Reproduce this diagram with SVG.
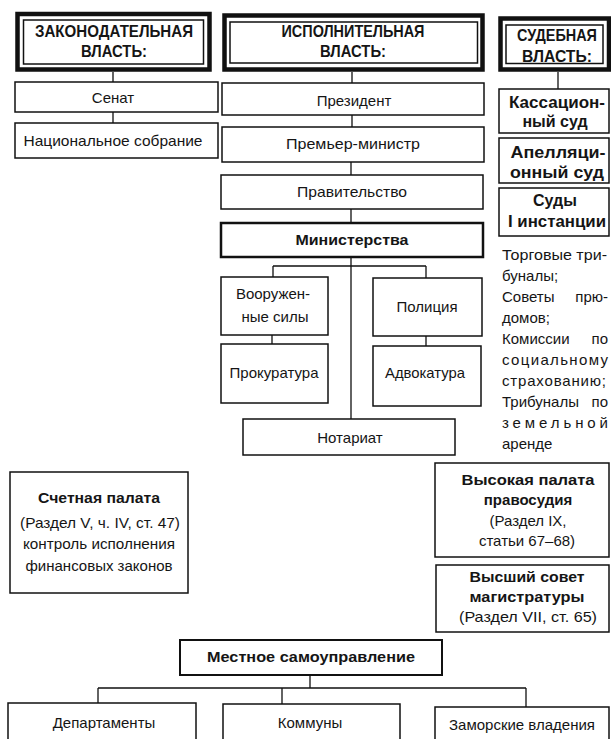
<svg xmlns="http://www.w3.org/2000/svg" width="611" height="739" viewBox="0 0 611 739">
<style>
.bg{fill:#fff}
.box{fill:#fff;stroke:#111;stroke-width:1.5}
.thick{fill:#fff;stroke:#111;stroke-width:2.5}
.hout{fill:#fff;stroke:#111;stroke-width:4.5}
.hin{fill:none;stroke:#111;stroke-width:1.5}
.t{font-family:"Liberation Sans",Arial,sans-serif;font-size:15px;fill:#151515;text-anchor:middle}
.l{text-anchor:start}
.e{text-anchor:end}
.b{font-weight:bold}
.h{font-weight:bold;font-size:16px}
.hh{font-weight:bold;font-size:17px}
.c{stroke:#111;stroke-width:1.3;fill:none}
</style>
<rect class="bg" x="0" y="0" width="611" height="739"/>

<g id="connectors">
  <path class="c" d="M113 72V82M113 112V123"/>
  <path class="c" d="M352 72V83M352 115V127M351 162V175M351 209V223"/>
  <path class="c" d="M351 257V419M273 266H426M273 266V277M426 266V278M272 335V344M426 336V346"/>
  <path class="c" d="M558 72V89"/>
  <path class="c" d="M310 675V688M98 688H526M98 688V703M282 688V704M526 688V707"/>
</g>

<g id="legislative-header">
  <rect class="hout" x="17.5" y="14" width="192" height="55.5"/>
  <rect class="hin" x="23.5" y="20" width="180" height="44"/>
  <text class="t hh" x="114" y="37" textLength="158" lengthAdjust="spacingAndGlyphs">ЗАКОНОДАТЕЛЬНАЯ</text>
  <text class="t hh" x="114" y="57" textLength="66" lengthAdjust="spacingAndGlyphs">ВЛАСТЬ:</text>
</g>
<g id="senat">
  <rect class="box" x="15" y="82" width="203" height="30"/>
  <text class="t" x="113" y="103">Сенат</text>
</g>
<g id="national-assembly">
  <rect class="box" x="15" y="123" width="203" height="35"/>
  <text class="t" x="113" y="146" textLength="179" lengthAdjust="spacingAndGlyphs">Национальное собрание</text>
</g>

<g id="executive-header">
  <rect class="hout" x="224.5" y="15.5" width="258" height="54"/>
  <rect class="hin" x="230" y="22" width="247.5" height="41"/>
  <text class="t hh" x="353" y="37" textLength="143" lengthAdjust="spacingAndGlyphs">ИСПОЛНИТЕЛЬНАЯ</text>
  <text class="t hh" x="353" y="57" textLength="66" lengthAdjust="spacingAndGlyphs">ВЛАСТЬ:</text>
</g>
<g id="president">
  <rect class="box" x="222" y="83" width="262" height="32"/>
  <text class="t" x="354" y="106">Президент</text>
</g>
<g id="premier">
  <rect class="box" x="222" y="127" width="262" height="35"/>
  <text class="t" x="353" y="149" textLength="134" lengthAdjust="spacingAndGlyphs">Премьер-министр</text>
</g>
<g id="government">
  <rect class="box" x="221" y="175" width="262" height="34"/>
  <text class="t" x="352" y="197" textLength="110" lengthAdjust="spacingAndGlyphs">Правительство</text>
</g>
<g id="ministries">
  <rect class="thick" x="221" y="223" width="262" height="34"/>
  <text class="t b" x="352" y="245" textLength="113" lengthAdjust="spacingAndGlyphs">Министерства</text>
</g>
<g id="armed-forces">
  <rect class="box" x="221" y="277" width="107" height="58"/>
  <text class="t" x="273" y="299">Вооружен-</text>
  <text class="t" x="275" y="322">ные силы</text>
</g>
<g id="police">
  <rect class="box" x="373" y="278" width="109" height="58"/>
  <text class="t" x="427" y="312">Полиция</text>
</g>
<g id="prosecution">
  <rect class="box" x="221" y="344" width="107" height="59"/>
  <text class="t" x="274" y="378" textLength="89" lengthAdjust="spacingAndGlyphs">Прокуратура</text>
</g>
<g id="advocacy">
  <rect class="box" x="373" y="346" width="108" height="60"/>
  <text class="t" x="425" y="378" textLength="80" lengthAdjust="spacingAndGlyphs">Адвокатура</text>
</g>
<g id="notary">
  <rect class="box" x="243" y="419" width="212" height="36"/>
  <text class="t" x="350" y="443">Нотариат</text>
</g>

<g id="judicial-header">
  <rect class="hout" x="500.5" y="18.5" width="108.5" height="51"/>
  <rect class="hin" x="506" y="25" width="97" height="38.5"/>
  <text class="t hh" x="557" y="41" textLength="80" lengthAdjust="spacingAndGlyphs">СУДЕБНАЯ</text>
  <text class="t hh" x="557" y="62" textLength="70" lengthAdjust="spacingAndGlyphs">ВЛАСТЬ:</text>
</g>
<g id="cassation">
  <rect class="box" x="499" y="89" width="110" height="44"/>
  <text class="t h" x="557" y="108" textLength="96" lengthAdjust="spacingAndGlyphs">Кассацион-</text>
  <text class="t h" x="555" y="127">ный суд</text>
</g>
<g id="appeal">
  <rect class="box" x="499" y="138" width="110" height="45"/>
  <text class="t h" x="558" y="158" textLength="95" lengthAdjust="spacingAndGlyphs">Апелляци-</text>
  <text class="t h" x="557" y="178" textLength="94" lengthAdjust="spacingAndGlyphs">онный суд</text>
</g>
<g id="first-instance">
  <rect class="box" x="499" y="188" width="110" height="48"/>
  <text class="t h" x="555" y="206">Суды</text>
  <text class="t h" x="557" y="227" textLength="98" lengthAdjust="spacingAndGlyphs">I инстанции</text>
</g>
<g id="tribunals-list">
  <text class="t l" x="502" y="260" textLength="105" lengthAdjust="spacingAndGlyphs">Торговые три-</text>
  <text class="t l" x="502" y="281">буналы;</text>
  <text class="t l" x="502" y="302">Советы</text><text class="t e" x="608" y="302">прю-</text>
  <text class="t l" x="502" y="323">домов;</text>
  <text class="t l" x="502" y="344">Комиссии</text><text class="t e" x="608" y="344">по</text>
  <text class="t l" x="502" y="365" textLength="106" lengthAdjust="spacing">социальному</text>
  <text class="t l" x="502" y="386" textLength="104" lengthAdjust="spacing">страхованию;</text>
  <text class="t l" x="502" y="407">Трибуналы</text><text class="t e" x="608" y="407">по</text>
  <text class="t l" x="502" y="428" textLength="106" lengthAdjust="spacing">земельной</text>
  <text class="t l" x="502" y="449">аренде</text>
</g>

<g id="audit-chamber">
  <rect class="box" x="10" y="472" width="178" height="121"/>
  <text class="t b" x="99" y="503" textLength="122" lengthAdjust="spacingAndGlyphs">Счетная палата</text>
  <text class="t" x="100" y="528" textLength="160" lengthAdjust="spacingAndGlyphs">(Раздел V, ч. IV, ст. 47)</text>
  <text class="t" x="99" y="549" textLength="152" lengthAdjust="spacingAndGlyphs">контроль исполнения</text>
  <text class="t" x="99" y="571" textLength="147" lengthAdjust="spacingAndGlyphs">финансовых законов</text>
</g>

<g id="high-court">
  <rect class="box" x="435" y="463" width="174" height="94"/>
  <text class="t b" x="528" y="485" textLength="133" lengthAdjust="spacingAndGlyphs">Высокая палата</text>
  <text class="t b" x="528" y="505">правосудия</text>
  <text class="t" x="528" y="526">(Раздел IX,</text>
  <text class="t" x="527" y="546">статьи 67–68)</text>
</g>
<g id="magistracy-council">
  <rect class="box" x="436" y="565" width="173" height="67"/>
  <text class="t b" x="527" y="582" textLength="115" lengthAdjust="spacingAndGlyphs">Высший совет</text>
  <text class="t b" x="527" y="602" textLength="115" lengthAdjust="spacingAndGlyphs">магистратуры</text>
  <text class="t" x="528" y="622" textLength="138" lengthAdjust="spacingAndGlyphs">(Раздел VII, ст. 65)</text>
</g>

<g id="local-government">
  <rect class="box" x="180" y="640" width="262" height="35" style="stroke-width:2"/>
  <text class="t b" x="311" y="662" textLength="208" lengthAdjust="spacingAndGlyphs">Местное самоуправление</text>
</g>
<g id="departments">
  <rect class="box" x="8" y="703" width="188" height="50"/>
  <text class="t" x="104" y="728">Департаменты</text>
</g>
<g id="communes">
  <rect class="box" x="223" y="704" width="177" height="50"/>
  <text class="t" x="310" y="728">Коммуны</text>
</g>
<g id="overseas">
  <rect class="box" x="435" y="707" width="174" height="50"/>
  <text class="t" x="522" y="730">Заморские владения</text>
</g>
</svg>
